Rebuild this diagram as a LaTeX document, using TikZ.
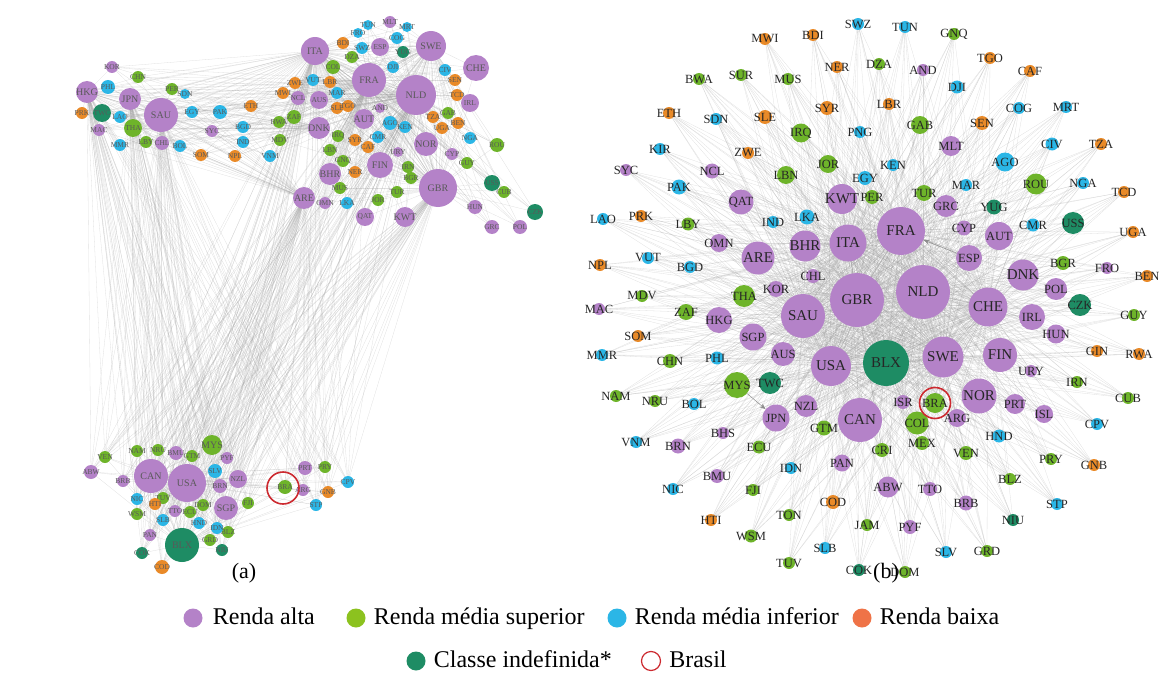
\documentclass[tikz,border=0pt]{standalone}
\usepackage{fontspec}
\setmainfont{Liberation Serif}
\usetikzlibrary{arrows.meta, positioning, backgrounds}

\definecolor{hiC}{HTML}{B482C8}
\definecolor{umsC}{HTML}{6EB42A}
\definecolor{lmsC}{HTML}{2BB6E6}
\definecolor{loC}{HTML}{E98A28}
\definecolor{undC}{HTML}{1E8C64}
\definecolor{umsL}{HTML}{8CC21F}
\definecolor{loL}{HTML}{EF7347}
\definecolor{brC}{HTML}{CC2A30}

\newcommand\netB{%
FRA/901/231/48/hiC, NLD/923/292/54/hiC, GBR/857/300/54/hiC, SAU/803/316/44/hiC,
USA/831/366/40/hiC, CAN/860/420/44/hiC, SWE/943/357/41/hiC, CHE/988/307/39/hiC,
ITA/848/243/37/hiC, ARE/758/258/33/hiC, BHR/805/246/31/hiC, KWT/842/199/30/hiC,
QAT/741/202/25/hiC, FIN/1000/355/34/hiC, NOR/979/396/35/hiC, AUT/999/236/28/hiC,
DNK/1023/275/31/hiC, ESP/969/258/26/hiC, IRL/1032/317/26/hiC, POL/1056/289/22/hiC,
HUN/1056/334/19/hiC, GRC/946/206/22/hiC, CYP/964/228/15/hiC, HKG/719/320/26/hiC,
SGP/753/337/27/hiC, AUS/783/354/24/hiC, JPN/776/418/27/hiC, NZL/806/406/22/hiC,
OMN/719/243/18/hiC, MLT/951/146/20/hiC, PRT/1015/404/20/hiC, ISL/1044/414/18/hiC,
ABW/888/487/21/hiC, KOR/776/289/16/hiC, CHL/813/276/14/hiC, ISR/903/402/14/hiC,
ARG/957/418/18/hiC, TTO/930/489/14/hiC, BRB/966/503/15/hiC, PYF/910/527/14/hiC,
URY/1031/371/12/hiC, FRO/1107/268/12/hiC, BHS/723/433/12/hiC, BRN/678/446/15/hiC,
BMU/717/476/14/hiC, PAN/842/463/17/hiC, NCL/712/171/15/hiC, SYC/626/170/12/hiC,
MAC/599/309/12/hiC, AND/923/70/12/hiC,
BRA/935/403/20/umsC, COL/917/423/23/umsC, MEX/922/443/14/umsC, CRI/882/450/14/umsC,
VEN/966/453/14/umsC, GTM/824/428/15/umsC, MYS/737/385/26/umsC, THA/744/296/22/umsC,
ZAF/686/312/16/umsC, CHN/670/361/14/umsC, MDV/642/296/12/umsC, LBY/688/224/13/umsC,
LBN/786/175/18/umsC, JOR/828/164/18/umsC, IRQ/801/133/19/umsC, GAB/920/125/18/umsC,
TUR/924/193/16/umsC, PER/872/197/14/umsC, ROU/1036/184/21/umsC, BGR/1063/263/14/umsC,
GUY/1134/315/12/umsC, IRN/1077/382/12/umsC, CUB/1128/398/12/umsC, PRY/1051/459/12/umsC,
BLZ/1010/479/12/umsC, GRD/987/551/12/umsC, DOM/905/572/12/umsC, JAM/867/525/12/umsC,
TUV/789/563/12/umsC, WSM/751/536/13/umsC, TON/789/515/12/umsC, FJI/753/490/12/umsC,
ECU/759/447/13/umsC, NAM/616/396/12/umsC, NRU/655/401/12/umsC, BWA/699/79/12/umsC,
SUR/741/75/12/umsC, MUS/788/79/12/umsC, DZA/879/64/12/umsC, GNQ/954/34/12/umsC,
SWZ/858/24/12/lmsC, TUN/905/27/12/lmsC, DJI/957/87/13/lmsC, COG/1019/108/12/lmsC,
MRT/1066/107/12/lmsC, CIV/1052/144/13/lmsC, AGO/1005/162/19/lmsC, KEN/893/165/12/lmsC,
MAR/966/185/12/lmsC, NGA/1083/183/12/lmsC, EGY/865/178/14/lmsC, PNG/860/132/12/lmsC,
SDN/716/119/12/lmsC, KIR/660/149/12/lmsC, PAK/679/187/15/lmsC, LAO/603/219/12/lmsC,
IND/773/222/12/lmsC, LKA/807/217/15/lmsC, VUT/648/258/12/lmsC, BGD/690/267/12/lmsC,
PHL/717/358/13/lmsC, MMR/602/355/12/lmsC, BOL/694/404/12/lmsC, VNM/636/442/12/lmsC,
IDN/791/468/12/lmsC, NIC/673/489/12/lmsC, SLB/825/548/12/lmsC, SLV/946/552/12/lmsC,
STP/1057/504/12/lmsC, HND/999/436/13/lmsC, CPV/1097/424/12/lmsC, CMR/1033/225/13/lmsC,
MWI/765/39/12/loC, BDI/813/35/12/loC, NER/837/67/12/loC, ETH/669/113/12/loC,
SLE/765/117/14/loC, SYR/827/108/14/loC, ZWE/748/153/12/loC, LBR/889/104/12/loC,
TGO/990/58/12/loC, CAF/1030/71/12/loC, SEN/982/123/14/loC, TZA/1101/144/12/loC,
TCD/1124/192/12/loC, UGA/1133/232/12/loC, BEN/1147/276/12/loC, GIN/1097/351/12/loC,
RWA/1139/354/12/loC, GNB/1094/465/12/loC, PRK/641/216/12/loC, NPL/600/265/12/loC,
SOM/638/336/12/loC, HTI/711/520/12/loC, COD/833/502/14/loC,
BLX/886/363/46/undC, USS/1073/223/22/undC, CZK/1080/305/22/undC, YUG/994/207/15/undC,
TWC/770/383/22/undC, NIU/1013/520/12/undC, COK/859/570/12/undC}

\newcommand\netAeu{%
ITA/315/51/28/hiC, SWE/431/46/30/hiC, CHE/476/68/26/hiC, FRA/369/80/34/hiC,
NLD/416/95/40/hiC, IRL/470/103/18/hiC, AUS/319/100/18/hiC, AUT/364/119/20/hiC,
DNK/319/128/22/hiC, NOR/426/144/24/hiC, FIN/380/165/26/hiC, BHR/330/174/22/hiC,
GBR/438/188/38/hiC, ARE/304/198/22/hiC, QAT/365/217/18/hiC, KWT/405/217/20/hiC,
ESP/380/47/18/hiC, CYP/452/154/12/hiC, GRC/492/227/14/hiC, POL/520/227/14/hiC,
HUN/475/207/14/hiC, AND/380/108/10/hiC, URY/398/152/10/hiC, NCL/298/98/14/hiC,
OMN/325/203/12/hiC, MLT/390/22/12/hiC,
COL/333/67/14/umsC, GAB/448/113/12/umsC, LBN/330/150/12/umsC, GNQ/343/161/12/umsC,
MUS/340/188/12/umsC, TUR/397/192/12/umsC, JOR/378/200/12/umsC, IRN/408/167/12/umsC,
GUY/467/163/12/umsC, ROU/497/145/14/umsC, CUB/504/192/12/umsC, IRQ/338/136/12/umsC,
ZAF/294/117/14/umsC, BWA/279/122/12/umsC, MDV/280/140/12/umsC, DZA/352/57/12/umsC,
BGR/411/178/12/umsC,
TUN/368/25/10/lmsC, COG/397/38/12/lmsC, SWZ/362/48/12/lmsC, DJI/393/67/12/lmsC,
CIV/445/70/12/lmsC, MAR/337/93/12/lmsC, AGO/390/123/14/lmsC, KEN/405/127/12/lmsC,
CMR/378/137/12/lmsC, NGA/470/138/12/lmsC, LKA/347/203/12/lmsC, VUT/313/80/12/lmsC,
MRT/407/27/10/lmsC, FRO/358/33/10/lmsC,
BDI/343/43/12/loC, LBR/330/82/12/loC, SLE/337/108/12/loC, TGO/348/106/12/loC,
SEN/455/80/12/loC, TCD/457/95/12/loC, TZA/433/117/12/loC, UGA/442/128/12/loC,
BEN/458/123/12/loC, SYR/355/140/12/loC, CAF/368/147/12/loC, NER/355/172/12/loC,
MWI/283/93/12/loC, ZWE/295/83/12/loC,
YUG/403/52/12/undC, USS/492/183/16/undC, CZK/535/212/16/undC}

\newcommand\netAas{%
HKG/87/92/22/hiC, JPN/130/99/22/hiC, SAU/161/115/34/hiC, KOR/112/67/12/hiC,
MAC/99/130/12/hiC, CHL/162/143/14/hiC, SYC/212/131/12/hiC,
CHN/138/77/12/umsC, THA/133/128/18/umsC, LBY/146/142/12/umsC, PER/172/89/12/umsC,
PHL/108/87/14/lmsC, LAO/120/117/12/lmsC, MMR/120/145/12/lmsC, BOL/180/146/12/lmsC,
EGY/192/112/12/lmsC, PAK/220/112/14/lmsC, BGD/243/127/12/lmsC, IND/243/142/12/lmsC,
VNM/270/156/12/lmsC, SDN/185/94/10/lmsC,
PRK/82/113/12/loC, SOM/201/155/12/loC, NPL/235/156/12/loC, ETH/251/106/12/loC,
TWC/102/113/18/undC}

\newcommand\netAam{%
CAN/151/476/34/hiC, USA/187/483/38/hiC, SGP/226/508/24/hiC, ABW/91/472/14/hiC,
NZL/238/479/18/hiC, BRN/220/486/14/hiC, BRB/123/481/12/hiC, TTO/175/511/12/hiC,
PAN/150/535/12/hiC, BMU/176/453/14/hiC, PYF/227/458/12/hiC, ARG/303/490/12/hiC,
PRT/305/468/14/hiC,
MYS/212/445/20/umsC, NAM/137/451/12/umsC, NRU/158/450/12/umsC, GTM/192/456/12/umsC,
VEN/105/457/12/umsC, FJI/248/503/12/umsC, TUV/163/498/12/umsC, WSM/137/514/12/umsC,
ECU/190/512/12/umsC, DOM/203/505/12/umsC, BLZ/228/532/12/umsC, GRD/210/540/12/umsC,
BRA/285/487/14/umsC, PRY/325/467/12/umsC,
SLV/215/471/14/lmsC, NIC/137/499/12/lmsC, SLB/163/520/12/lmsC, HND/199/523/12/lmsC,
IDN/217/528/12/lmsC, CPV/348/482/12/lmsC, STP/316/505/12/lmsC,
HTI/155/504/12/loC, COD/162/567/14/loC, GNB/328/492/12/loC,
BLX/182/545/34/undC, NIU/222/550/12/undC, COK/142/553/12/undC}

\begin{document}
\begin{tikzpicture}[
  x=1pt, y=-1pt,
  dot/.style={circle, inner sep=0pt, draw=none},
  labB/.style={font=\fontsize{\fs}{\fs}\selectfont, text=black!85, inner sep=0pt},
  labA/.style={font=\fontsize{\fs}{\fs}\selectfont, text=black!65, inner sep=0pt},
  edge/.style={draw=black!40, line width=0.3pt, opacity=0.3},
  ring/.style={circle, draw=brC, line width=1.6pt, inner sep=0pt},
  legtxt/.style={font=\fontsize{24}{24}\selectfont, inner sep=0pt, text height=17pt, text depth=5pt}
]
\useasboundingbox (0,0) rectangle (1160,677);

\foreach \n/\x/\y/\d/\c in \netB {
  \pgfmathsetmacro\fs{\d>29 ? 15 : 12.5}
  \node[dot, fill=\c, minimum size=\d, label={[labB]center:\n}] (b\n) at (\x,\y) {};
}
\foreach \n/\x/\y/\d/\c in \netAeu {
  \pgfmathsetmacro\fs{\d>19 ? 10 : 7.5}
  \node[dot, fill=\c, minimum size=\d, label={[labA]center:\n}] (a\n) at (\x,\y) {};
}
\foreach \n/\x/\y/\d/\c in \netAas {
  \pgfmathsetmacro\fs{\d>19 ? 10 : 7.5}
  \node[dot, fill=\c, minimum size=\d, label={[labA]center:\n}] (a\n) at (\x,\y) {};
}
\foreach \n/\x/\y/\d/\c in \netAam {
  \pgfmathsetmacro\fs{\d>19 ? 10 : 7.5}
  \node[dot, fill=\c, minimum size=\d, label={[labA]center:\n}] (a\n) at (\x,\y) {};
}

\begin{scope}[on background layer]
\foreach \n/\x/\y/\d/\c in \netB {
  \foreach \h in {NLD,GBR,FRA,USA,BLX,SWE,CHE,SAU,ITA} {\draw[edge] (b\n.center) -- (b\h.center);}
}
\foreach \n/\x/\y/\d/\c in \netAeu {
  \foreach \h in {NLD,FRA,GBR,SWE,ITA} {\draw[edge] (a\n.center) -- (a\h.center);}
}
\foreach \n/\x/\y/\d/\c in \netAas {
  \foreach \h in {ITA,FRA,NLD,ARE,DNK,SAU,HKG} {\draw[edge] (a\n.center) -- (a\h.center);}
}
\foreach \n/\x/\y/\d/\c in \netAam {
  \foreach \h in {SAU,HKG,JPN,FRA,NLD,GBR,ARE,ITA,USA,CAN,BLX} {\draw[edge] (a\n.center) -- (a\h.center);}
}
\end{scope}

\draw[draw=black!45, line width=0.5pt, -{Stealth[length=6pt]}] (bESP) -- (bFRA);
\draw[draw=black!45, line width=0.5pt, -{Stealth[length=6pt]}] (bMYS) -- (bJPN);

\node[ring, minimum size=31] (bRing) at (bBRA) {};
\node[ring, minimum size=32] (aRing) at (283,488) {};

\node[font=\fontsize{22}{22}\selectfont] (tagA) at (244,573) {(a)};
\node[font=\fontsize{22}{22}\selectfont] (tagB) at (886,573) {(b)};

\node[dot, fill=hiC, minimum size=19] (lgHi) at (193,618) {};
\node[legtxt, right=10pt of lgHi] (lgHiT) {Renda alta};
\node[dot, fill=umsL, minimum size=19] (lgUms) at (356,618) {};
\node[legtxt, right=8pt of lgUms] (lgUmsT) {Renda média superior};
\node[dot, fill=lmsC, minimum size=19] (lgLms) at (617,618) {};
\node[legtxt, right=8pt of lgLms] (lgLmsT) {Renda média inferior};
\node[dot, fill=loL, minimum size=19] (lgLo) at (862,618) {};
\node[legtxt, right=8pt of lgLo] (lgLoT) {Renda baixa};
\node[dot, fill=undC, minimum size=19] (lgUnd) at (416,661) {};
\node[legtxt, right=8pt of lgUnd] (lgUndT) {Classe indefinida*};
\node[ring, line width=1.2pt, minimum size=19] (lgBra) at (651,661) {};
\node[legtxt, right=8pt of lgBra] (lgBraT) {Brasil};
\end{tikzpicture}
\end{document}
